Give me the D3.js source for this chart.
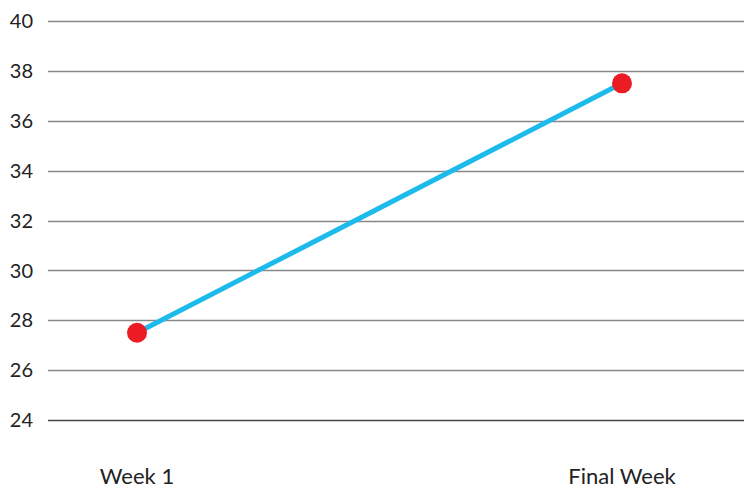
<!DOCTYPE html>
<html>
<head>
<meta charset="utf-8">
<script src="https://cdn.jsdelivr.net/npm/d3@7"></script>
<style>
  body { margin: 0; background: #fff; }
  text { font-family: Lato, "Open Sans", sans-serif; fill: #222; }
</style>
</head>
<body>
<svg id="chart" width="744" height="490"></svg>
<script>
const categories = ['Week 1', 'Final Week'];
const values = [27.5, 37.5];
const yTicks = [24, 26, 28, 30, 32, 34, 36, 38, 40];

const margin = {left: 48, right: 744, top: 21, bottom: 420};

const svg = d3.select('#chart');

const x = d3.scalePoint()
    .domain(categories)
    .range([137, 622]);

const y = d3.scaleLinear()
    .domain([24, 40])
    .range([margin.bottom, margin.top]);

// gridlines
svg.append('g')
    .selectAll('line')
    .data(yTicks)
    .enter()
    .append('line')
    .attr('x1', margin.left)
    .attr('x2', margin.right)
    .attr('y1', d => Math.round(y(d)) + 0.5)
    .attr('y2', d => Math.round(y(d)) + 0.5)
    .attr('stroke', d => d === 24 ? '#444' : '#888')
    .attr('stroke-width', 1.3);

// y labels
svg.append('g')
    .selectAll('text')
    .data(yTicks)
    .enter()
    .append('text')
    .attr('x', 33)
    .attr('y', d => y(d))
    .attr('dy', '0.36em')
    .attr('text-anchor', 'end')
    .attr('font-size', 20)
    .text(d => d);

// x labels
svg.append('g')
    .selectAll('text')
    .data(categories)
    .enter()
    .append('text')
    .attr('x', d => x(d))
    .attr('y', 484)
    .attr('text-anchor', 'middle')
    .attr('font-size', 22)
    .text(d => d);

const line = d3.line()
    .x((d, i) => x(categories[i]))
    .y(d => y(d));

svg.append('path')
    .datum(values)
    .attr('d', line)
    .attr('fill', 'none')
    .attr('stroke', '#1cbbec')
    .attr('stroke-width', 5);

svg.append('g')
    .selectAll('circle')
    .data(values)
    .enter()
    .append('circle')
    .attr('cx', (d, i) => x(categories[i]))
    .attr('cy', d => y(d))
    .attr('r', 10)
    .attr('fill', '#ec1c24');
</script>
</body>
</html>
